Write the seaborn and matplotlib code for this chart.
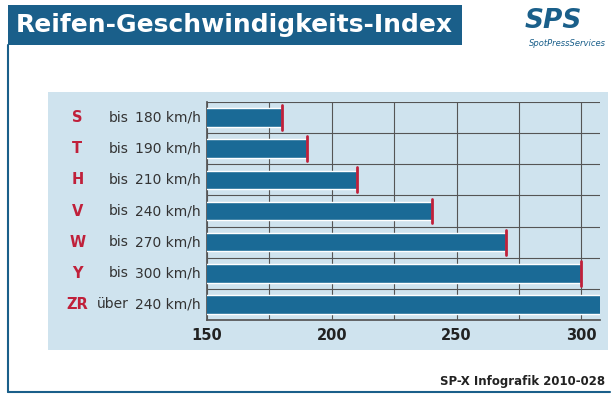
import matplotlib
matplotlib.use("Agg")
import matplotlib.pyplot as plt
import seaborn as sns
import pandas as pd
from matplotlib.patches import Rectangle

codes = ["S", "T", "H", "V", "W", "Y", "ZR"]
words = ["bis", "bis", "bis", "bis", "bis", "bis", "über"]
speed_labels = ["180 km/h", "190 km/h", "210 km/h", "240 km/h", "270 km/h", "300 km/h", "240 km/h"]
speeds = [180, 190, 210, 240, 270, 300, 310]
has_marker = [True, True, True, True, True, True, False]
xticks = [150, 200, 250, 300]

df = pd.DataFrame({"code": codes, "speed": speeds})

sns.set_theme(style="white")
plt.rcParams['font.family'] = ['DejaVu Sans']
fig = plt.figure(figsize=(6.13, 4.0), dpi=100)
fig.patch.set_facecolor("white")

fig.add_artist(Rectangle((48/613, 1-350/400), 560/613, 258/400, transform=fig.transFigure,
                         facecolor="#cfe3ee", edgecolor="none", zorder=0))
fig.add_artist(plt.Line2D([8/613, 8/613], [1-45/400, 1-392/400], transform=fig.transFigure, color="#1a5f8a", lw=1.5))
fig.add_artist(plt.Line2D([8/613, 610/613], [1-392/400, 1-392/400], transform=fig.transFigure, color="#1a5f8a", lw=1.5))
fig.add_artist(Rectangle((8/613, 1-45/400), 454/613, 40/400, transform=fig.transFigure,
                         facecolor="#1a5f8a", edgecolor="none"))
fig.text(16/613, 1-25/400, "Reifen-Geschwindigkeits-Index", color="white", fontsize=18,
         fontweight="bold", va="center", ha="left")
fig.text(553/613, 1-21/400, "SPS", color="#1a5f8a", fontsize=19, fontweight="bold",
         fontstyle="italic", va="center", ha="center")
fig.text(606/613, 1-43/400, "SpotPressServices", color="#1a5f8a", fontsize=6,
         fontstyle="italic", va="center", ha="right")
fig.text(605/613, 1-381/400, "SP-X Infografik 2010-028", color="#222222", fontsize=8.5,
         fontweight="bold", va="center", ha="right")

ax = fig.add_axes([207/613, 1-320/400, 393/613, 218/400])
ax.set_facecolor("none")
sns.barplot(data=df, x="speed", y="code", orient="h", color="#1a6a96", width=0.6,
            saturation=1, ax=ax, zorder=3)
ax.set_xlim(150, 307.5)
ax.set_xticks(xticks)
ax.set_xticks([175, 225, 275], minor=True)
ax.set_xticklabels([str(t) for t in xticks], fontsize=10.5, fontweight="bold", color="#222222")
ax.tick_params(axis="x", which="both", length=0, pad=6)
ax.set_yticks([])
ax.set_yticks([i + 0.5 for i in range(-1, len(codes))], minor=True)
ax.grid(True, which="both", axis="x", color="#555555", lw=0.8, zorder=1)
ax.grid(True, which="minor", axis="y", color="#555555", lw=0.8, zorder=1)
ax.set_xlabel(""); ax.set_ylabel("")
ax.set_ylim(len(codes) - 0.5, -0.5)
for s in ["top", "right"]:
    ax.spines[s].set_visible(False)
ax.spines["left"].set_color("#555555")
ax.spines["bottom"].set_color("#555555")

for i, (v, m) in enumerate(zip(speeds, has_marker)):
    if m:
        ax.plot([v, v], [i - 0.4, i + 0.4], color="#c0203a", lw=2, zorder=4)
    ax.text(-0.33, i, codes[i], transform=ax.get_yaxis_transform(), ha="center", va="center",
            color="#c0203a", fontsize=10.5, fontweight="bold")
    ax.text(-0.2, i, words[i], transform=ax.get_yaxis_transform(), ha="right", va="center",
            color="#333333", fontsize=10)
    ax.text(-0.015, i, speed_labels[i], transform=ax.get_yaxis_transform(), ha="right", va="center",
            color="#333333", fontsize=10)

fig.savefig("out.png", dpi=100)
